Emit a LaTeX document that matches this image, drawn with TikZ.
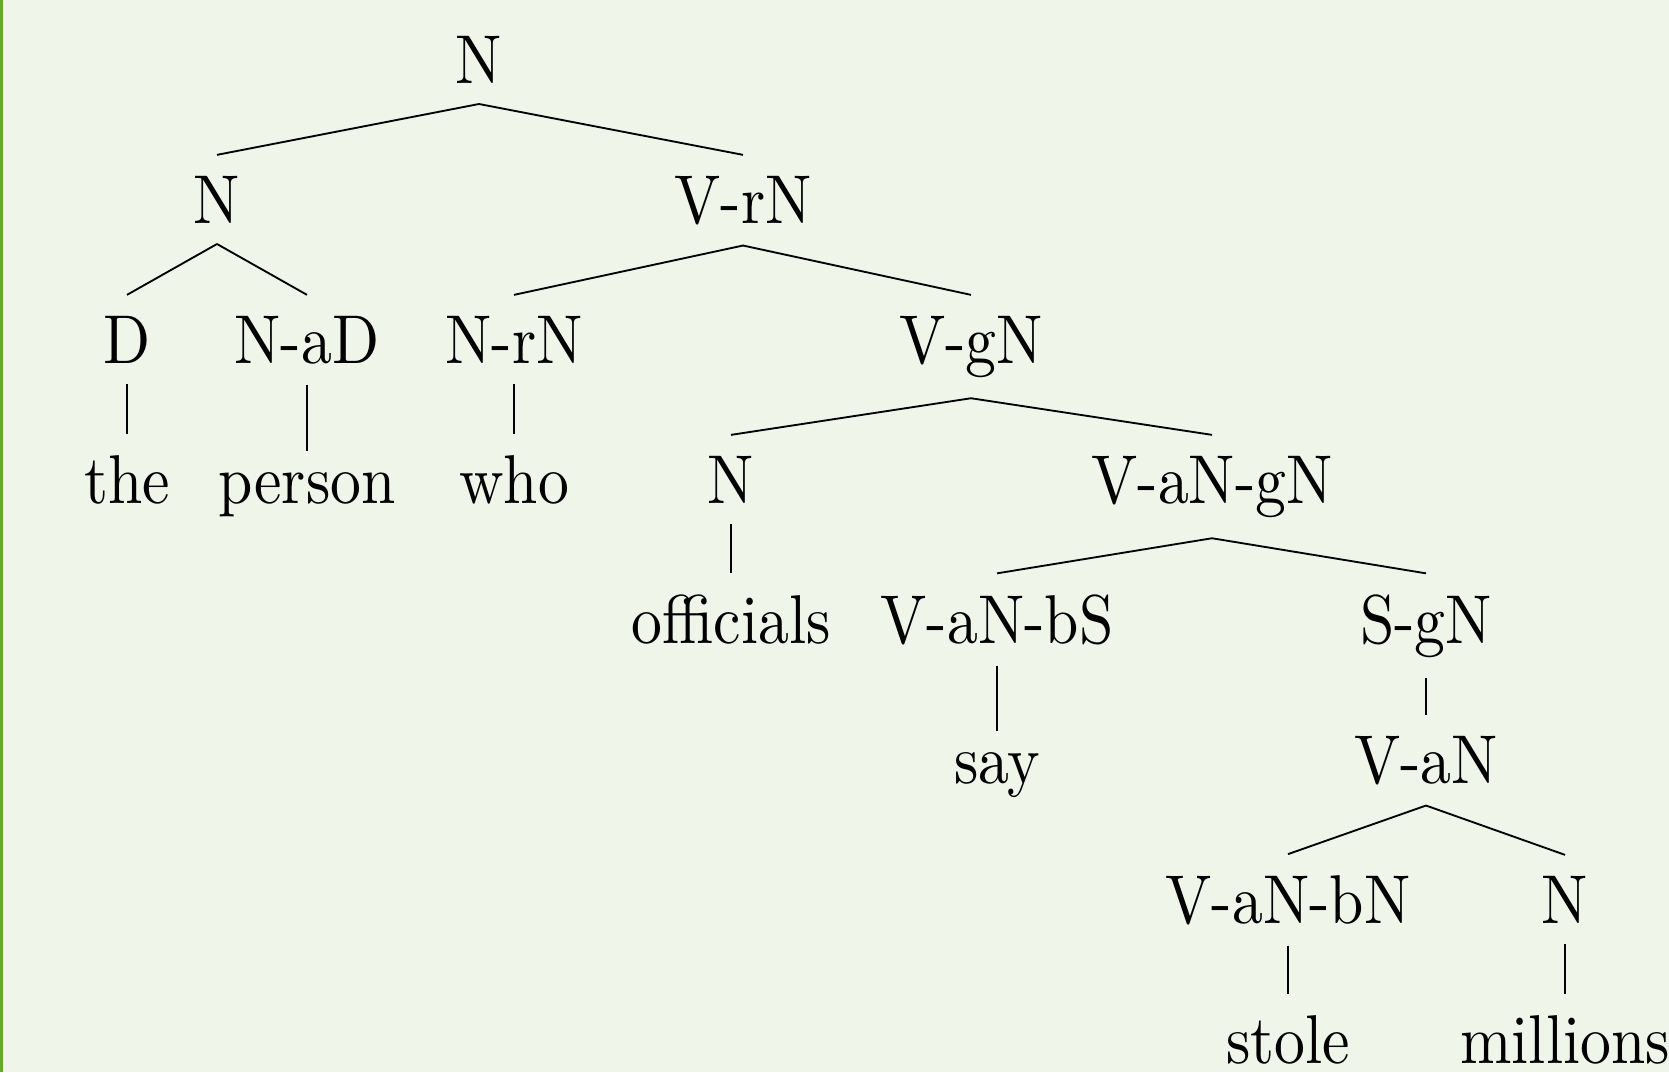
\documentclass[tikz,border=0pt]{standalone}
\usepackage{graphicx}
\definecolor{paper}{RGB}{239,245,233}
\definecolor{leafgreen}{RGB}{102,168,40}
% category labels are set slightly taller than their natural shape
\newcommand\treelabel[1]{\scalebox{1}[1.12]{#1}}
\tikzset{
  cat/.style={anchor=base, inner xsep=0pt, inner ysep=3.2pt},
  branch/.style={line width=0.3pt, draw=black}
}
\begin{document}
\begin{tikzpicture}[x=0.1621pt,y=-0.1621pt]
  \useasboundingbox (0,0) rectangle (1669,1072);
  \fill[paper] (0,0) rectangle (1669,1072);
  \fill[leafgreen] (0,0) rectangle (2.5,1072);

  % level 0
  \node[cat] (root) at (479,83) {\treelabel{N}};
  % level 1
  \node[cat] (np) at (217,223) {\treelabel{N}};
  \node[cat] (vrn) at (743,223) {\treelabel{V-rN}};
  % level 2
  \node[cat] (d) at (127,363) {\treelabel{D}};
  \node[cat] (nad) at (307,363) {\treelabel{N-aD}};
  \node[cat] (nrn) at (514,363) {\treelabel{N-rN}};
  \node[cat] (vgn) at (971,363) {\treelabel{V-gN}};
  % level 3
  \node[cat] (the) at (127,503) {\treelabel{the}};
  \node[cat] (person) at (307,503) {\treelabel{person}};
  \node[cat] (who) at (514,503) {\treelabel{who}};
  \node[cat] (nsub) at (731,503) {\treelabel{N}};
  \node[cat] (vangn) at (1212,503) {\treelabel{V-aN-gN}};
  % level 4
  \node[cat] (officials) at (731,643) {\treelabel{officials}};
  \node[cat] (vanbs) at (997,643) {\treelabel{V-aN-bS}};
  \node[cat] (sgn) at (1426,643) {\treelabel{S-gN}};
  % level 5
  \node[cat] (say) at (997,783) {\treelabel{say}};
  \node[cat] (van) at (1426,783) {\treelabel{V-aN}};
  % level 6
  \node[cat] (vanbn) at (1288,923) {\treelabel{V-aN-bN}};
  \node[cat] (nobj) at (1565,923) {\treelabel{N}};
  % level 7
  \node[cat] (stole) at (1288,1063) {\treelabel{stole}};
  \node[cat] (millions) at (1565,1063) {\treelabel{millions}};

  % branches
  \draw[branch] (root.south) -- (np.north);
  \draw[branch] (root.south) -- (vrn.north);
  \draw[branch] (np.south) -- (d.north);
  \draw[branch] (np.south) -- (nad.north);
  \draw[branch] (vrn.south) -- (nrn.north);
  \draw[branch] (vrn.south) -- (vgn.north);
  \draw[branch] (d.south) -- (the.north);
  \draw[branch] (nad.south) -- (person.north);
  \draw[branch] (nrn.south) -- (who.north);
  \draw[branch] (vgn.south) -- (nsub.north);
  \draw[branch] (vgn.south) -- (vangn.north);
  \draw[branch] (nsub.south) -- (officials.north);
  \draw[branch] (vangn.south) -- (vanbs.north);
  \draw[branch] (vangn.south) -- (sgn.north);
  \draw[branch] (vanbs.south) -- (say.north);
  \draw[branch] (sgn.south) -- (van.north);
  \draw[branch] (van.south) -- (vanbn.north);
  \draw[branch] (van.south) -- (nobj.north);
  \draw[branch] (vanbn.south) -- (stole.north);
  \draw[branch] (nobj.south) -- (millions.north);
\end{tikzpicture}
\end{document}
